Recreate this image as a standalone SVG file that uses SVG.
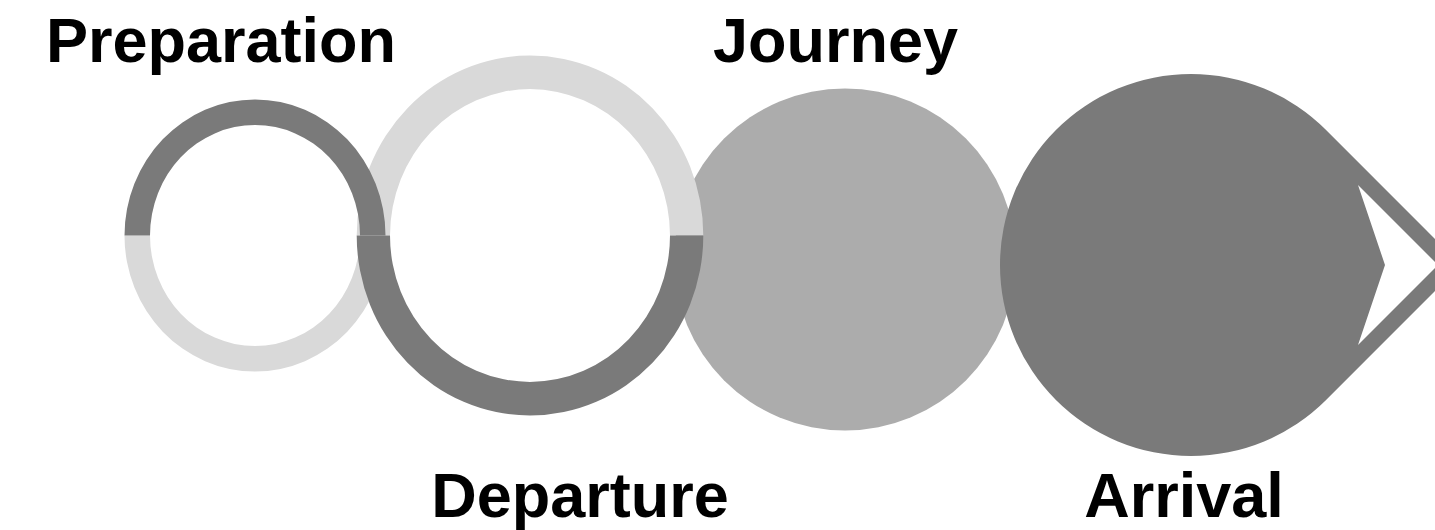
<svg xmlns="http://www.w3.org/2000/svg" width="1435" height="530" viewBox="0 0 1435 530">
  <style>
    .dark { fill: #7a7a7a; }
    .light { fill: #d9d9d9; }
    .mid { fill: #acacac; }
    .label { font-family: "Liberation Sans", Arial, Helvetica, sans-serif; font-weight: bold; font-size: 63px; fill: #000; text-anchor: middle; }
  </style>
  <rect width="1435" height="530" fill="#ffffff"/>
  <g id="journey">
    <circle class="mid" cx="845" cy="259.5" r="171"/>
  </g>
  <g id="arrival">
    <path class="dark" d="M1326.06,129.94 L1461.1,265 L1326.06,400.06 A191,191 0 1 1 1326.06,129.94 Z"/>
    <polygon fill="#ffffff" points="1358,185 1385,265 1358,345 1438,265"/>
  </g>
  <g id="preparation-bottom">
    <path class="light" d="M124.5,235.5 A130.5,136 0 0 0 385.5,235.5 L360,235.5 A105,110.5 0 0 1 150,235.5 Z"/>
  </g>
  <g id="departure-top">
    <path class="light" d="M356.7,235.5 A173.3,180 0 0 1 703.3,235.5 L670,235.5 A140,146.5 0 0 0 390,235.5 Z"/>
  </g>
  <g id="preparation-top">
    <path class="dark" d="M124.5,235.5 A130.5,136 0 0 1 385.5,235.5 L360,235.5 A105,110.5 0 0 0 150,235.5 Z"/>
  </g>
  <g id="departure-bottom">
    <path class="dark" d="M356.7,235.5 A173.3,180 0 0 0 703.3,235.5 L670,235.5 A140,146.5 0 0 1 390,235.5 Z"/>
  </g>
  <g id="connectors"></g>
  <g id="labels">
    <text class="label" x="221" y="62">Preparation</text>
    <text class="label" x="835.5" y="62">Journey</text>
    <text class="label" x="580" y="517">Departure</text>
    <text class="label" x="1184" y="517">Arrival</text>
  </g>
</svg>
